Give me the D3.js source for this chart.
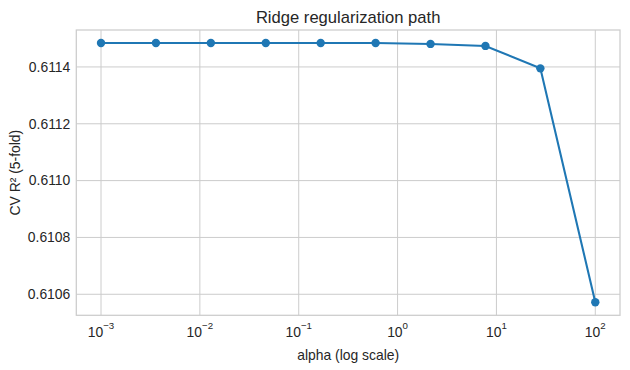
<!DOCTYPE html>
<html><head><meta charset="utf-8">
<script src="https://cdn.jsdelivr.net/npm/d3@7"></script>
<style>body{margin:0;background:#fff}svg{display:block}</style>
</head><body>
<svg id="c" width="630" height="370"></svg>
<script>
const alphas = [0.001, 0.003594, 0.012915, 0.046416, 0.16681, 0.59948, 2.15443, 7.74264, 27.8256, 100];
const cvR2 = [0.611484, 0.611484, 0.611484, 0.611484, 0.611484, 0.611484, 0.611481, 0.611474, 0.611395, 0.610572];
const xTickExps = [-3, -2, -1, 0, 1, 2];
const yTicks = [0.6106, 0.6108, 0.6110, 0.6112, 0.6114];
const title = "Ridge regularization path";
const xLabel = "alpha (log scale)";
const yLabel = "CV R² (5-fold)";

const L = 76.3, R = 620, T = 30, B = 315.3;
const svg = d3.select("#c");
const x = d3.scaleLog().domain([Math.pow(10, -3.25), Math.pow(10, 2.25)]).range([L, R]);
const y = d3.scaleLinear().domain([0.610526, 0.611530]).range([B, T]);
const txt = "#262626", grid = "#cccccc";
const font = "Liberation Sans, Arial, sans-serif";

// grid
const g = svg.append("g");
g.selectAll(".gx").data(xTickExps).join("line")
  .attr("x1", d => x(Math.pow(10, d))).attr("x2", d => x(Math.pow(10, d)))
  .attr("y1", T).attr("y2", B).attr("stroke", grid).attr("stroke-width", 1);
g.selectAll(".gy").data(yTicks).join("line")
  .attr("x1", L).attr("x2", R).attr("y1", d => y(d)).attr("y2", d => y(d))
  .attr("stroke", grid).attr("stroke-width", 1);

// spines
svg.append("rect").attr("x", L).attr("y", T).attr("width", R - L).attr("height", B - T)
  .attr("fill", "none").attr("stroke", grid).attr("stroke-width", 1.25);

// y tick labels
svg.selectAll(".yt").data(yTicks).join("text")
  .attr("x", L - 6).attr("y", d => y(d)).attr("dy", "0.35em")
  .attr("text-anchor", "end").attr("fill", txt)
  .style("font-family", font).style("font-size", "13.9px")
  .text(d => d.toFixed(4));

// x tick labels 10^n
const xt = svg.selectAll(".xt").data(xTickExps).join("text")
  .attr("y", 337).attr("fill", txt)
  .style("font-family", font).style("font-size", "13.9px")
  .attr("text-anchor", "middle")
  .attr("x", d => x(Math.pow(10, d)));
xt.append("tspan").text("10");
xt.append("tspan").attr("dy", -8).style("font-size", "9.7px")
  .text(d => d < 0 ? "\u2212" + Math.abs(d) : String(d));

// axis labels
svg.append("text").attr("x", (L + R) / 2).attr("y", 360).attr("text-anchor", "middle")
  .attr("fill", txt).style("font-family", font).style("font-size", "13.9px").text(xLabel);
svg.append("text").attr("transform", `translate(19.5,${(T + B) / 2}) rotate(-90)`)
  .attr("text-anchor", "middle").attr("fill", txt)
  .style("font-family", font).style("font-size", "13.9px").text(yLabel);
svg.append("text").attr("x", (L + R) / 2).attr("y", 22.5).attr("text-anchor", "middle")
  .attr("fill", txt).style("font-family", font).style("font-size", "16.6px").text(title);

// line + markers
const data = alphas.map((a, i) => [a, cvR2[i]]);
svg.append("path").datum(data)
  .attr("d", d3.line().x(d => x(d[0])).y(d => y(d[1])))
  .attr("fill", "none").attr("stroke", "#1f77b4").attr("stroke-width", 2.08);
svg.selectAll(".pt").data(data).join("circle")
  .attr("cx", d => x(d[0])).attr("cy", d => y(d[1])).attr("r", 4.2).attr("fill", "#1f77b4");
</script>
</body></html>
